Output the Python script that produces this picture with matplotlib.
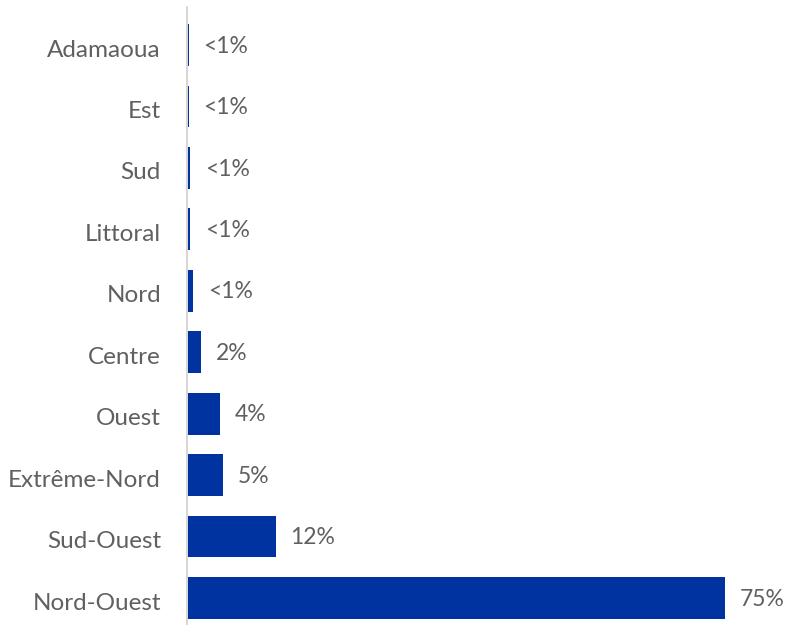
import matplotlib.pyplot as plt

regions = ["Nord-Ouest", "Sud-Ouest", "Extrême-Nord", "Ouest", "Centre",
           "Nord", "Littoral", "Sud", "Est", "Adamaoua"]
values = [75, 12.2, 4.9, 4.4, 1.8, 0.7, 0.25, 0.25, 0.08, 0.08]
labels = ["75%", "12%", "5%", "4%", "2%", "<1%", "<1%", "<1%", "<1%", "<1%"]

plt.rcParams['font.family'] = ['Lato', 'DejaVu Sans']
text_color = "#606060"

fig = plt.figure(figsize=(7.87, 6.25), dpi=100)
ax = fig.add_axes([0.238, 0.0, 0.762, 0.989])

y = list(range(len(regions)))
ax.barh(y, values, height=0.68, color="#0033A0", left=0.15)

for yi, v, lab in zip(y, values, labels):
    ax.text(v + 2.2, yi - 0.02, lab, va="center", ha="left",
            fontsize=16.5, color=text_color)

ax.set_yticks([yi - 0.05 for yi in y])
ax.set_yticklabels(regions, fontsize=17.5, color=text_color)
ax.tick_params(axis="y", length=0, pad=19)
ax.set_xticks([])
ax.set_xlim(0, 83.8)
ax.set_ylim(-0.44, 9.62)

for s in ["top", "right", "bottom"]:
    ax.spines[s].set_visible(False)
ax.spines["left"].set_color("#d0d0d0")
ax.spines["left"].set_linewidth(1.2)

fig.savefig("out.png", dpi=100)
